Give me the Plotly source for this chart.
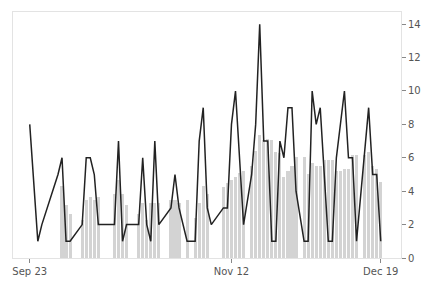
import plotly.graph_objects as go

YEAR = "2019"

line_dates = ["09-23", "09-25", "09-26", "09-30", "10-01", "10-02", "10-03", "10-06", "10-07", "10-08",
              "10-09", "10-10", "10-11", "10-12", "10-13", "10-14", "10-15", "10-16", "10-17", "10-18",
              "10-19", "10-20", "10-21", "10-22", "10-23", "10-24", "10-25", "10-28", "10-29", "10-30",
              "11-01", "11-02", "11-03", "11-04", "11-05", "11-06", "11-07", "11-10", "11-11", "11-12",
              "11-13", "11-15", "11-17", "11-18", "11-19", "11-20", "11-21", "11-22", "11-23", "11-24",
              "11-25", "11-26", "11-27", "11-28", "11-30", "12-01", "12-02", "12-03", "12-04", "12-06",
              "12-07", "12-08", "12-10", "12-11", "12-12", "12-13", "12-16", "12-17", "12-18", "12-19"]
line_values = [8, 1, 2, 5, 6, 1, 1, 2, 6, 6,
               5, 2, 2, 2, 2, 2, 7, 1, 2, 2,
               2, 2, 6, 2, 1, 7, 2, 3, 5, 3,
               1, 1, 1, 7, 9, 3, 2, 3, 3, 8,
               10, 2, 5, 8, 14, 7, 7, 1, 1, 7,
               6, 9, 9, 4, 1, 1, 10, 8, 9, 1,
               1, 6, 10, 6, 6, 1, 9, 5, 5, 1]

bar_dates = ["10-01", "10-02", "10-03", "10-06", "10-07", "10-08", "10-09", "10-10", "10-14", "10-15",
             "10-16", "10-17", "10-20", "10-21", "10-22", "10-23", "10-24", "10-25", "10-28", "10-29",
             "10-30", "11-01", "11-03", "11-04", "11-05", "11-06", "11-10", "11-11", "11-12", "11-13",
             "11-14", "11-15", "11-17", "11-18", "11-19", "11-20", "11-21", "11-22", "11-23", "11-24",
             "11-25", "11-26", "11-27", "11-28", "11-30", "12-01", "12-02", "12-03", "12-04", "12-05",
             "12-06", "12-07", "12-08", "12-09", "12-10", "12-11", "12-12", "12-13", "12-15", "12-16",
             "12-17", "12-18", "12-19"]
bar_values = [4.33, 3.19, 2.66, 2.27, 3.5, 3.64, 3.49, 3.64, 3.84, 4.67,
              3.84, 3.19, 2.66, 3.31, 2.3, 3.3, 3.31, 3.31, 3.49, 3.49,
              3.31, 3.49, 2.4, 3.31, 4.33, 3.84, 4.24, 4.49, 4.69, 4.87,
              5.07, 5.22, 5.52, 6.4, 7.35, 7.04, 7.1, 7.04, 6.37, 6.3,
              4.83, 5.22, 5.51, 6.03, 6.03, 5.02, 5.67, 5.51, 5.51, 5.87,
              5.87, 5.87, 5.22, 5.22, 5.31, 5.31, 6.16, 6.16, 6.16, 6.34,
              5.51, 5.31, 4.53]

tick_dates = ["09-23", "11-12", "12-19"]
tick_labels = ["Sep 23", "Nov 12", "Dec 19"]
y_ticks = [0, 2, 4, 6, 8, 10, 12, 14]

def d(s):
    return f"{YEAR}-{s}"

fig = go.Figure()
fig.add_trace(go.Bar(
    x=[d(s) for s in bar_dates], y=bar_values,
    width=0.78 * 86400000, marker=dict(color="#d3d3d3", line=dict(width=0)),
    showlegend=False, hoverinfo="skip"))
fig.add_trace(go.Scatter(
    x=[d(s) for s in line_dates], y=line_values, mode="lines",
    line=dict(color="#222222", width=1.5), showlegend=False))

axis_common = dict(showgrid=False, zeroline=False, showline=True, linecolor="#e3e3e3",
                   linewidth=1, mirror=True, ticks="outside", tickcolor="#888888",
                   ticklen=4, tickwidth=1,
                   tickfont=dict(family="DejaVu Sans", size=10, color="#555555"))

fig.update_layout(
    width=432, height=288,
    margin=dict(l=13, r=30, t=11, b=28),
    paper_bgcolor="white", plot_bgcolor="white",
    bargap=0,
    xaxis=dict(type="date", range=["2019-09-18 20:24", "2019-12-24 00:30"],
               tickvals=[d(s) for s in tick_dates], ticktext=tick_labels, **axis_common),
    yaxis=dict(range=[0, 14.73], side="right", tickvals=y_ticks, **axis_common),
)

fig.write_html("out.html")
